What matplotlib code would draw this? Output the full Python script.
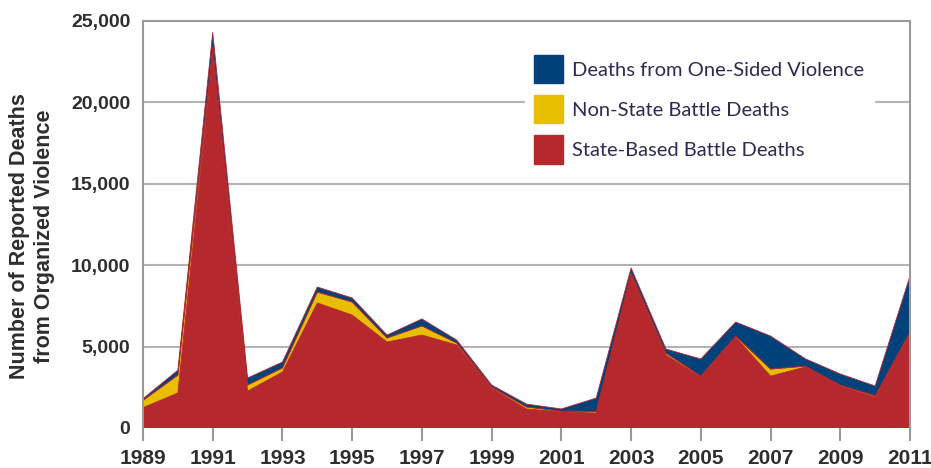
import matplotlib
matplotlib.use("Agg")
import matplotlib.pyplot as plt
from matplotlib.patches import Patch
from matplotlib.ticker import FuncFormatter

years = list(range(1989, 2012))
state_based = [1250, 2150, 23000, 2270, 3440, 7680, 6940, 5280, 5710, 5100, 2450, 1170,
               990, 920, 9400, 4480, 3130, 5590, 3190, 3750, 2580, 1900, 5830]
non_state = [450, 1100, 400, 370, 250, 670, 800, 250, 560, 120, 70, 120,
             50, 100, 120, 120, 60, 60, 430, 50, 60, 80, 50]
one_sided = [100, 300, 900, 430, 360, 310, 250, 180, 430, 180, 120, 180,
             130, 820, 310, 250, 1050, 860, 2030, 450, 680, 600, 3460]
tick_years = list(range(1989, 2012, 2))
y_ticks = [0, 5000, 10000, 15000, 20000, 25000]
labels = ["State-Based Battle Deaths", "Non-State Battle Deaths", "Deaths from One-Sided Violence"]
colors = ["#B5282E", "#E8BF00", "#01427A"]

fig = plt.figure(figsize=(9.31, 4.68), dpi=100)
W, H = 931, 468
ax = fig.add_axes([143 / W, 1 - 428 / H, (910 - 143) / W, (428 - 21) / H])

ax.stackplot(years, state_based, non_state, one_sided, colors=colors,
             edgecolors=colors, linewidth=0.6, zorder=2)

ax.set_xlim(1989, 2011)
ax.set_ylim(0, 25000)
ax.set_xticks(tick_years)
ax.set_yticks(y_ticks)
ax.yaxis.set_major_formatter(FuncFormatter(lambda v, p: f"{int(v):,}"))

for y in y_ticks[1:-1]:
    ax.axhline(y, color="#b3b3b3", lw=1.5, zorder=1)

grey = "#9a9a9a"
for s in ["left", "top", "right"]:
    ax.spines[s].set_color(grey)
    ax.spines[s].set_linewidth(1.5)
ax.spines["bottom"].set_visible(False)

ax.tick_params(axis="x", length=9, width=1.5, color=grey, pad=6,
               labelsize=15, labelcolor="#2e2e2e")
ax.tick_params(axis="y", length=0, pad=9, labelsize=14, labelcolor="#2e2e2e")
for lab in ax.get_xticklabels() + ax.get_yticklabels():
    lab.set_fontweight("bold")
    lab.set_fontfamily("Liberation Sans")

fig.text(32 / W, 1 - 236 / H, "Number of Reported Deaths\nfrom Organized Violence",
         rotation=90, ha="center", va="center", fontsize=15.5, fontweight="bold",
         color="#2e2e2e", family="Liberation Sans", linespacing=1.2)

handles = [Patch(facecolor=colors[i], edgecolor=colors[i], label=labels[i]) for i in [2, 1, 0]]
leg = ax.legend(handles=handles, loc="upper left", bbox_to_anchor=(525 / W, 1 - 46 / H),
                bbox_transform=fig.transFigure, borderaxespad=0, frameon=True,
                fancybox=False, framealpha=1, edgecolor="white", facecolor="white",
                handlelength=1.45, handleheight=1.77, handletextpad=0.45,
                labelspacing=0.6, borderpad=0.45,
                prop={"family": "Lato", "size": 14.5})
for t in leg.get_texts():
    t.set_color("#2b2b55")
leg.set_zorder(5)

fig.savefig("out.png", dpi=100)
